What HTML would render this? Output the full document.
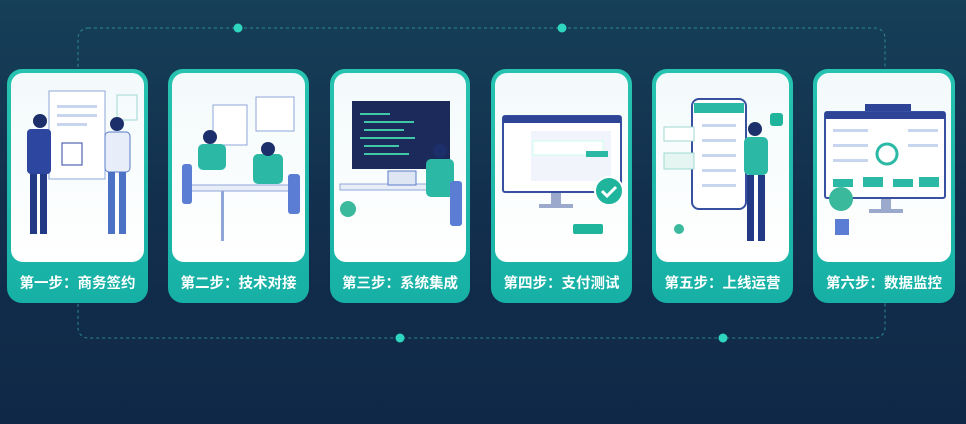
<!DOCTYPE html>
<html><head><meta charset="utf-8"><style>
html,body{margin:0;padding:0;width:966px;height:424px;overflow:hidden;background:#12304e}
svg{display:block}
text{font-family:"Liberation Sans","Noto Sans CJK SC",sans-serif}
</style></head><body>
<svg width="966" height="424" viewBox="0 0 966 424" xmlns="http://www.w3.org/2000/svg">
<defs>
<linearGradient id="bg" x1="0" y1="0" x2="0" y2="1">
<stop offset="0" stop-color="#163f58"/><stop offset="0.5" stop-color="#122f4d"/><stop offset="1" stop-color="#102847"/></linearGradient>
<linearGradient id="card" x1="0" y1="0" x2="0" y2="1">
<stop offset="0" stop-color="#27c3b0"/><stop offset="1" stop-color="#17b0a6"/></linearGradient>
<linearGradient id="inner" x1="0" y1="0" x2="0" y2="1">
<stop offset="0" stop-color="#f3fafb"/><stop offset="1" stop-color="#ffffff"/></linearGradient>
</defs>
<rect width="966" height="424" fill="url(#bg)"/>
<rect x="78" y="28" width="807" height="310" rx="10" fill="none" stroke="#2a8a8c" stroke-width="1" stroke-dasharray="3,3"/>
<g fill="#2fd6bf">
<circle cx="238" cy="28" r="4.5"/><circle cx="562" cy="28" r="4.5"/>
<circle cx="400" cy="338" r="4.5"/><circle cx="723" cy="338" r="4.5"/>
</g>
<g id="cards">
<g transform="translate(7,69)">
<rect width="141" height="234" rx="15" fill="url(#card)"/><rect x="4" y="4" width="133" height="189" rx="12" fill="url(#inner)"/>
<text x="70.5" y="219" font-size="14.5" font-weight="bold" fill="#fff" text-anchor="middle">第一步：商务签约</text>
<rect x="42" y="22" width="56" height="88" fill="#fff" stroke="#8fa6d8"/>
<rect x="50" y="36" width="40" height="3" fill="#c8d5ee"/><rect x="50" y="45" width="40" height="3" fill="#c8d5ee"/><rect x="50" y="54" width="30" height="3" fill="#c8d5ee"/>
<rect x="110" y="26" width="20" height="25" fill="none" stroke="#9fd9d2"/>
<circle cx="33" cy="52" r="7" fill="#1d2f6b"/><rect x="20" y="60" width="24" height="45" rx="4" fill="#2d47a0"/><rect x="23" y="105" width="7" height="60" fill="#223a86"/><rect x="33" y="105" width="7" height="60" fill="#223a86"/>
<circle cx="110" cy="55" r="7" fill="#1d2f6b"/><rect x="98" y="63" width="25" height="40" rx="4" fill="#e7eef9" stroke="#5a7cc8"/><rect x="101" y="103" width="7" height="62" fill="#4c72c6"/><rect x="112" y="103" width="7" height="62" fill="#4c72c6"/>
<rect x="55" y="74" width="20" height="22" fill="#fff" stroke="#2d47a0"/>
</g>
<g transform="translate(168,69)">
<rect width="141" height="234" rx="15" fill="url(#card)"/><rect x="4" y="4" width="133" height="189" rx="12" fill="url(#inner)"/>
<text x="70.5" y="219" font-size="14.5" font-weight="bold" fill="#fff" text-anchor="middle">第二步：技术对接</text>
<rect x="45" y="36" width="34" height="40" fill="#fff" stroke="#8fa6d8"/><rect x="88" y="28" width="38" height="34" fill="#fff" stroke="#8fa6d8"/>
<rect x="18" y="116" width="108" height="6" fill="#e8eef8" stroke="#8fa6d8"/>
<rect x="30" y="75" width="28" height="26" rx="5" fill="#2bb9a6"/><circle cx="42" cy="68" r="7" fill="#1d2f6b"/>
<rect x="85" y="85" width="30" height="30" rx="5" fill="#2bb9a6"/><circle cx="100" cy="80" r="7" fill="#1d2f6b"/>
<rect x="14" y="95" width="10" height="40" rx="3" fill="#5b7ed4"/><rect x="120" y="105" width="12" height="40" rx="3" fill="#5b7ed4"/>
<rect x="53" y="122" width="3" height="50" fill="#8fa6d8"/>
</g>
<g transform="translate(330,69)">
<rect width="140" height="234" rx="15" fill="url(#card)"/><rect x="4" y="4" width="132" height="189" rx="12" fill="url(#inner)"/>
<text x="70" y="219" font-size="14.5" font-weight="bold" fill="#fff" text-anchor="middle">第三步：系统集成</text>
<rect x="22" y="32" width="98" height="68" fill="#1b2a5a"/>
<g fill="#3fc9a8"><rect x="30" y="44" width="30" height="2"/><rect x="34" y="52" width="50" height="2"/><rect x="34" y="60" width="40" height="2"/><rect x="30" y="68" width="55" height="2"/><rect x="34" y="76" width="35" height="2"/><rect x="34" y="84" width="45" height="2"/></g>
<rect x="10" y="115" width="92" height="6" fill="#e8eef8" stroke="#8fa6d8"/>
<rect x="58" y="102" width="28" height="14" fill="#dfe6f3" stroke="#5a7cc8"/>
<circle cx="110" cy="82" r="7" fill="#1d2f6b"/><rect x="96" y="90" width="28" height="38" rx="5" fill="#2bb9a6"/>
<rect x="120" y="112" width="12" height="45" rx="3" fill="#5b7ed4"/>
<circle cx="18" cy="140" r="8" fill="#3bb99d"/>
</g>
<g transform="translate(491,69)">
<rect width="141" height="234" rx="15" fill="url(#card)"/><rect x="4" y="4" width="133" height="189" rx="12" fill="url(#inner)"/>
<text x="70.5" y="219" font-size="14.5" font-weight="bold" fill="#fff" text-anchor="middle">第四步：支付测试</text>
<rect x="12" y="47" width="118" height="76" rx="2" fill="#fff" stroke="#3850a0" stroke-width="2"/>
<rect x="12" y="47" width="118" height="7" fill="#2e4597"/>
<rect x="40" y="62" width="80" height="50" fill="#f1f5fb"/><rect x="42" y="72" width="70" height="14" fill="#fff" stroke="#cfe"/>
<rect x="95" y="82" width="22" height="6" fill="#2bb9a6"/>
<rect x="60" y="124" width="10" height="12" fill="#9aa9cc"/><rect x="48" y="135" width="34" height="4" fill="#9aa9cc"/>
<circle cx="118" cy="122" r="14" fill="#1fb49c" stroke="#fff" stroke-width="2"/>
<path d="M111 122 l5 5 l9 -9" stroke="#fff" stroke-width="3" fill="none"/>
<rect x="82" y="155" width="30" height="10" rx="2" fill="#1fb49c"/>
</g>
<g transform="translate(652,69)">
<rect width="141" height="234" rx="15" fill="url(#card)"/><rect x="4" y="4" width="133" height="189" rx="12" fill="url(#inner)"/>
<text x="70.5" y="219" font-size="14.5" font-weight="bold" fill="#fff" text-anchor="middle">第五步：上线运营</text>
<rect x="40" y="30" width="54" height="110" rx="7" fill="#fff" stroke="#3850a0" stroke-width="2"/>
<rect x="42" y="34" width="50" height="10" fill="#2bb9a6"/>
<g fill="#c8d5ee"><rect x="50" y="55" width="34" height="3"/><rect x="50" y="70" width="34" height="3"/><rect x="50" y="85" width="34" height="3"/><rect x="50" y="100" width="34" height="3"/><rect x="50" y="115" width="34" height="3"/></g>
<rect x="12" y="58" width="30" height="14" fill="#fff" stroke="#9fd9d2"/><rect x="12" y="84" width="30" height="16" fill="#e5f6f2" stroke="#9fd9d2"/>
<circle cx="103" cy="60" r="7" fill="#1d2f6b"/><rect x="92" y="68" width="24" height="38" rx="5" fill="#2bb9a6"/>
<rect x="95" y="106" width="7" height="66" fill="#223a86"/><rect x="106" y="106" width="7" height="66" fill="#223a86"/>
<rect x="118" y="44" width="13" height="13" rx="3" fill="#1fb49c"/>
<circle cx="27" cy="160" r="5" fill="#3bb99d"/>
</g>
<g transform="translate(813,69)">
<rect width="142" height="234" rx="15" fill="url(#card)"/><rect x="4" y="4" width="134" height="189" rx="12" fill="url(#inner)"/>
<text x="71" y="219" font-size="14.5" font-weight="bold" fill="#fff" text-anchor="middle">第六步：数据监控</text>
<rect x="52" y="35" width="46" height="8" fill="#2e4597"/>
<rect x="12" y="43" width="120" height="86" rx="2" fill="#fff" stroke="#3850a0" stroke-width="2"/>
<rect x="12" y="43" width="120" height="7" fill="#2e4597"/>
<g fill="#c8d5ee"><rect x="20" y="60" width="35" height="3"/><rect x="20" y="75" width="35" height="3"/><rect x="20" y="90" width="35" height="3"/><rect x="95" y="60" width="30" height="3"/><rect x="95" y="75" width="30" height="3"/></g>
<circle cx="74" cy="85" r="10" fill="none" stroke="#2bb9a6" stroke-width="3"/>
<g fill="#2bb9a6"><rect x="20" y="110" width="20" height="8"/><rect x="50" y="108" width="20" height="10"/><rect x="80" y="110" width="20" height="8"/><rect x="106" y="108" width="20" height="10"/></g>
<rect x="68" y="130" width="10" height="10" fill="#9aa9cc"/><rect x="56" y="140" width="34" height="4" fill="#9aa9cc"/>
<circle cx="28" cy="130" r="12" fill="#3bb99d"/><rect x="22" y="150" width="14" height="16" fill="#5b7ed4"/>
</g>
</g>
</svg>
</body></html>
